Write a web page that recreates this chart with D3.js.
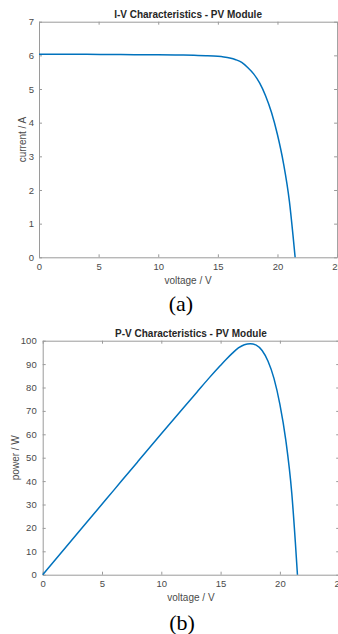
<!DOCTYPE html>
<html>
<head>
<meta charset="utf-8">
<script src="https://cdn.jsdelivr.net/npm/d3@7"></script>
<style>
  body { margin: 0; background: #fff; }
  svg { display: block; }
</style>
</head>
<body>
<svg id="fig" width="338" height="634"></svg>
<script>
// values
const voltage = [0, 2, 4, 6, 8, 10, 12, 13, 14, 15, 15.5, 16, 16.5, 17, 17.5, 18, 18.5, 19, 19.5, 20, 20.5, 21, 21.3, 21.48];
const current = [6.03, 6.03, 6.03, 6.025, 6.02, 6.02, 6.01, 6.0, 5.99, 5.97, 5.95, 5.92, 5.87, 5.79, 5.64, 5.45, 5.18, 4.8, 4.3, 3.64, 2.8, 1.66, 0.66, 0];
const power = [0, 12.06, 24.1, 36.15, 48.2, 60.2, 72.1, 78.0, 83.9, 89.5, 92.2, 94.7, 96.9, 98.3, 98.7, 98.1, 95.8, 91.2, 83.9, 72.8, 57.4, 34.9, 14.1, 0];

const voltageTicks = [0, 5, 10, 15, 20, 25];
const currentTicks = [0, 1, 2, 3, 4, 5, 6, 7];
const powerTicks = [0, 10, 20, 30, 40, 50, 60, 70, 80, 90, 100];

const svg = d3.select("#fig");
const axisColor = "#9a9a9a";
const labelColor = "#4a4a4a";
const lineColor = "#0072BD";
const fmt = d3.format("d");

function drawPanel(p) {
  const x = d3.scaleLinear().domain([0, 25]).range([p.left, p.right]);
  const y = d3.scaleLinear().domain(p.yDomain).range([p.bottom, p.top]);
  const g = svg.append("g");

  // bottom axis with labels
  g.append("g")
    .attr("transform", "translate(0," + p.bottom + ")")
    .call(d3.axisBottom(x).tickValues(voltageTicks).tickFormat(fmt)
      .tickSizeInner(-3).tickSizeOuter(0).tickPadding(6));

  // left axis with labels
  g.append("g")
    .attr("transform", "translate(" + p.left + ",0)")
    .call(d3.axisLeft(y).tickValues(p.yTicks).tickFormat(fmt)
      .tickSizeInner(-3).tickSizeOuter(0).tickPadding(p.yPad));

  // top and right: ticks only
  g.append("g")
    .attr("transform", "translate(0," + p.top + ")")
    .call(d3.axisTop(x).tickValues(voltageTicks).tickSizeInner(-3).tickSizeOuter(0).tickFormat(""));
  g.append("g")
    .attr("transform", "translate(" + p.right + ",0)")
    .call(d3.axisRight(y).tickValues(p.yTicks).tickSizeInner(-3).tickSizeOuter(0).tickFormat(""));

  g.selectAll(".domain, .tick line").attr("stroke", axisColor);
  g.selectAll(".tick text")
    .attr("fill", labelColor)
    .style("font-family", "Liberation Sans, Arial, sans-serif")
    .style("font-size", "9.5px");

  // curve
  const line = d3.line()
    .x(function(d) { return x(d[0]); })
    .y(function(d) { return y(d[1]); })
    .curve(d3.curveMonotoneX);

  g.append("path")
    .datum(d3.zip(voltage, p.values))
    .attr("fill", "none")
    .attr("stroke", lineColor)
    .attr("stroke-width", 1.5)
    .attr("d", line);

  // title
  g.append("text")
    .attr("x", (p.left + p.right) / 2)
    .attr("y", p.titleY)
    .attr("text-anchor", "middle")
    .attr("fill", "#262626")
    .style("font-family", "Liberation Sans, Arial, sans-serif")
    .style("font-size", "10px")
    .style("font-weight", "bold")
    .text(p.title);

  // x label
  g.append("text")
    .attr("x", (p.left + p.right) / 2)
    .attr("y", p.xLabelY)
    .attr("text-anchor", "middle")
    .attr("fill", labelColor)
    .style("font-family", "Liberation Sans, Arial, sans-serif")
    .style("font-size", "10px")
    .text("voltage / V");

  // y label
  g.append("text")
    .attr("transform", "translate(" + p.yLabelX + "," + (p.top + p.bottom) / 2 + ") rotate(-90)")
    .attr("text-anchor", "middle")
    .attr("fill", labelColor)
    .style("font-family", "Liberation Sans, Arial, sans-serif")
    .style("font-size", "10px")
    .text(p.yLabel);

  // caption
  g.append("text")
    .attr("x", p.captionX)
    .attr("y", p.captionY)
    .attr("text-anchor", "middle")
    .attr("fill", "#000")
    .style("font-family", "Liberation Serif, Times New Roman, serif")
    .style("font-size", "22px")
    .text(p.caption);
}

drawPanel({
  left: 39, right: 337.1, top: 21.7, bottom: 257.3,
  yDomain: [0, 7], yTicks: currentTicks, yPad: 5, values: current,
  title: "I-V Characteristics - PV Module", titleY: 18.3,
  xLabelY: 284, yLabel: "current / A", yLabelX: 26,
  caption: "(a)", captionX: 181, captionY: 311
});

drawPanel({
  left: 42.7, right: 339.2, top: 340.7, bottom: 574.7,
  yDomain: [0, 100], yTicks: powerTicks, yPad: 6, values: power,
  title: "P-V Characteristics - PV Module", titleY: 336.7,
  xLabelY: 601, yLabel: "power / W", yLabelX: 19,
  caption: "(b)", captionX: 182, captionY: 630
});
</script>
</body>
</html>
